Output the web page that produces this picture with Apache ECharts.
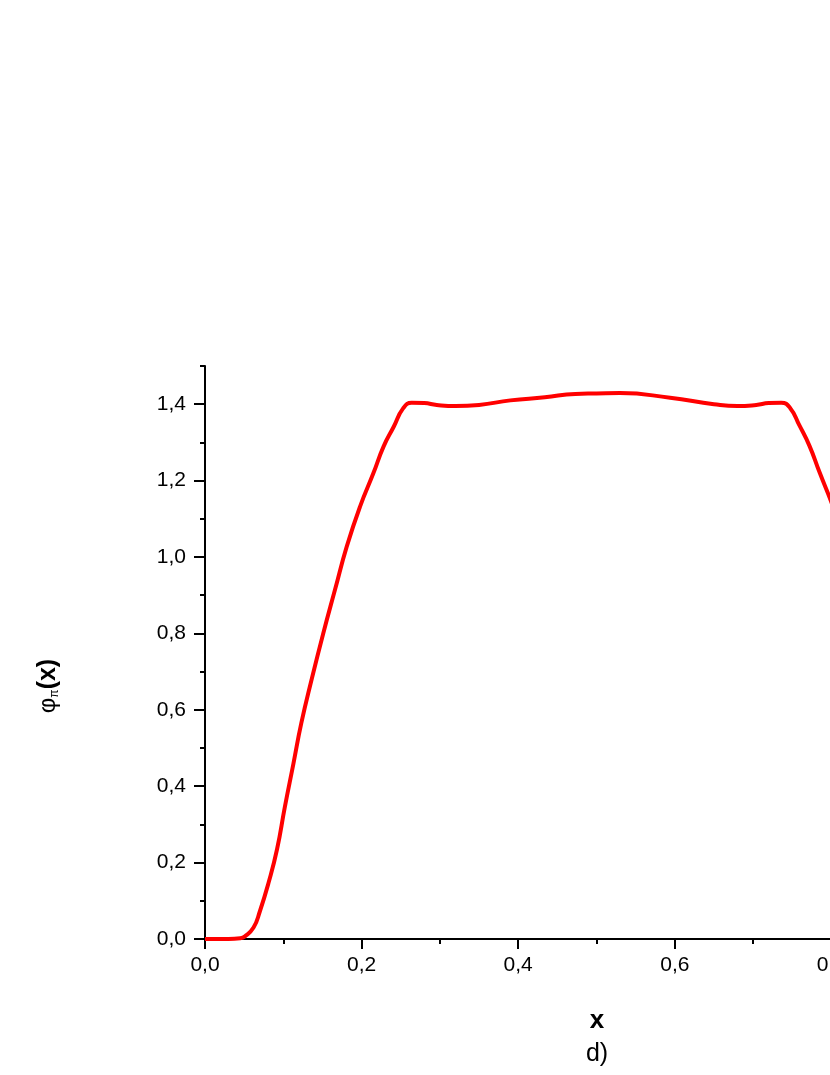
<!DOCTYPE html>
<html>
<head>
<meta charset="utf-8">
<script src="https://cdn.jsdelivr.net/npm/echarts@6/dist/echarts.min.js"></script>
<style>
html,body{margin:0;padding:0;background:#fff;}
#chart{width:830px;height:1075px;}
</style>
</head>
<body>
<div id="chart"></div>
<script>
// x positions and φπ(x) values
var xValues = [0, 0.03, 0.045, 0.051, 0.062, 0.07, 0.081, 0.092, 0.102, 0.113, 0.123, 0.136, 0.151, 0.166, 0.181, 0.198, 0.215, 0.228, 0.241, 0.253, 0.264, 0.28, 0.296, 0.32, 0.35, 0.39, 0.434, 0.473, 0.5, 0.53, 0.594, 0.65, 0.68, 0.704, 0.72, 0.736, 0.747, 0.759, 0.772, 0.785, 0.802, 0.819, 0.834, 0.849, 0.864, 0.877, 0.887, 0.898, 0.908, 0.919, 0.93, 0.938, 0.949, 0.955, 0.97, 1.0];
var yValues = [0, 0, 0.002, 0.007, 0.03, 0.072, 0.146, 0.235, 0.346, 0.46, 0.565, 0.678, 0.80, 0.914, 1.027, 1.132, 1.219, 1.289, 1.341, 1.389, 1.404, 1.403, 1.398, 1.395, 1.398, 1.41, 1.418, 1.427, 1.428, 1.429, 1.417, 1.40, 1.395, 1.398, 1.403, 1.404, 1.391, 1.345, 1.291, 1.221, 1.132, 1.027, 0.914, 0.80, 0.678, 0.565, 0.46, 0.346, 0.235, 0.146, 0.072, 0.03, 0.007, 0.002, 0, 0];
var xTicks = {min: 0, max: 1.0, interval: 0.2};
var yTicks = {min: 0, max: 1.5, labelMax: 1.4, interval: 0.2, minorInterval: 0.1};

var seriesData = xValues.map(function (x, i) { return [x, yValues[i]]; });
function fmt(v) { return v.toFixed(1).replace('.', ','); }

var FONT = '"Liberation Sans", Arial, sans-serif';
var LEFT = 205, PLOT_W = 783, TOP = 366, PLOT_H = 573;
var unit = PLOT_H / (yTicks.max - yTicks.min);

var chart = echarts.init(document.getElementById('chart'), null, {renderer: 'canvas'});
chart.setOption({
  backgroundColor: '#ffffff',
  animation: false,
  grid: [
    {left: LEFT, top: TOP, width: PLOT_W, height: PLOT_H, containLabel: false, outerBoundsMode: 'none'},
    {left: LEFT, top: TOP + (yTicks.max - yTicks.labelMax) * unit, width: PLOT_W, height: (yTicks.labelMax - yTicks.min) * unit, containLabel: false, outerBoundsMode: 'none'}
  ],
  xAxis: [
    {
      gridIndex: 0, type: 'value', min: xTicks.min, max: xTicks.max, interval: xTicks.interval,
      axisLine: {show: true, onZero: false, lineStyle: {color: '#000', width: 2}},
      axisTick: {show: true, inside: false, length: 10, lineStyle: {color: '#000', width: 2}},
      minorTick: {show: true, splitNumber: 2, length: 5, lineStyle: {color: '#000', width: 2}},
      splitLine: {show: false},
      axisLabel: {show: true, margin: 16, color: '#000', fontSize: 21, fontFamily: FONT, formatter: fmt}
    },
    {
      gridIndex: 1, type: 'value', min: xTicks.min, max: xTicks.max, show: false
    }
  ],
  yAxis: [
    {
      gridIndex: 0, type: 'value', min: yTicks.min, max: yTicks.max, interval: yTicks.minorInterval,
      axisLine: {show: true, onZero: false, lineStyle: {color: '#000', width: 2}},
      axisTick: {show: true, inside: false, length: 5, lineStyle: {color: '#000', width: 2}},
      splitLine: {show: false},
      axisLabel: {show: false}
    },
    {
      gridIndex: 1, type: 'value', min: yTicks.min, max: yTicks.labelMax, interval: yTicks.interval,
      axisLine: {show: false},
      axisTick: {show: true, inside: false, length: 11, lineStyle: {color: '#000', width: 2}},
      splitLine: {show: false},
      axisLabel: {show: true, margin: 19, color: '#000', fontSize: 21, fontFamily: FONT, formatter: fmt}
    }
  ],
  series: [{
    type: 'line',
    xAxisIndex: 0, yAxisIndex: 0,
    data: seriesData,
    smooth: 0.5,
    showSymbol: false,
    symbol: 'none',
    lineStyle: {color: '#ff0000', width: 4}
  }],
  graphic: [
    {
      type: 'text', x: 48, y: 686, rotation: Math.PI / 2,
      style: {
        text: '{a|φ}{b|π}{c|(x)}',
        align: 'center', verticalAlign: 'middle',
        rich: {
          a: {fontSize: 24, fontFamily: FONT, fill: '#000', color: '#000'},
          b: {fontSize: 12, fontFamily: FONT, fill: '#000', color: '#000', verticalAlign: 'bottom', padding: [10, 0, 0, 0]},
          c: {fontSize: 25, fontWeight: 'bold', fontFamily: FONT, fill: '#000', color: '#000'}
        }
      }
    },
    {
      type: 'text', x: 597, y: 1021,
      style: {text: 'x', fontSize: 26, fontWeight: 'bold', fontFamily: FONT, fill: '#000', align: 'center', verticalAlign: 'middle'}
    },
    {
      type: 'text', x: 597, y: 1054,
      style: {text: 'd)', fontSize: 25, fontFamily: FONT, fill: '#000', align: 'center', verticalAlign: 'middle'}
    }
  ]
});
</script>
</body>
</html>
